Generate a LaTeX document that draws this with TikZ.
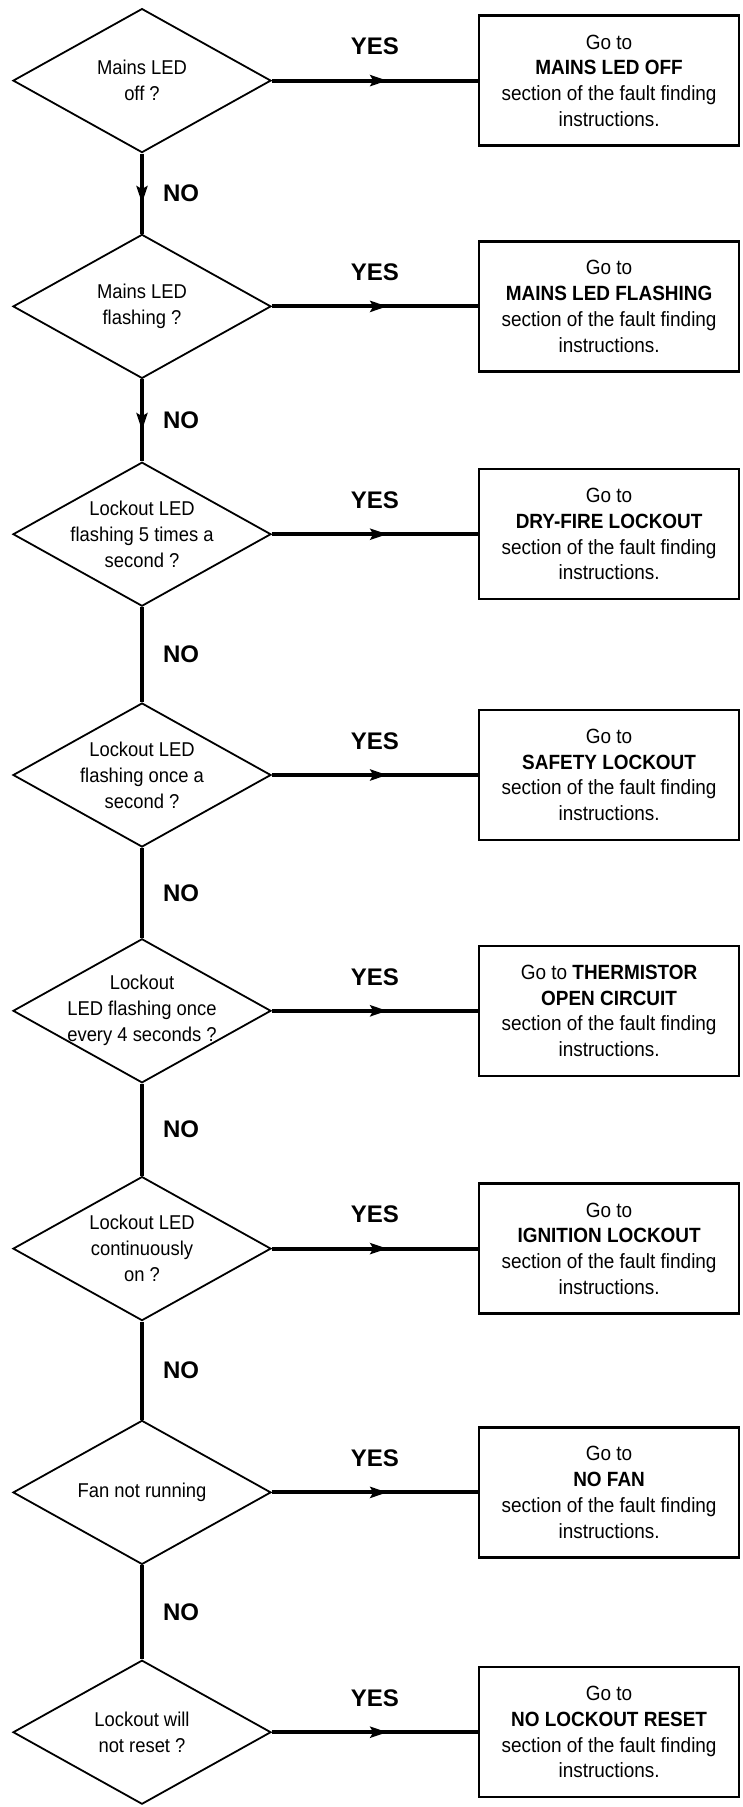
\documentclass[tikz,border=0pt]{standalone}
\usepackage{fontspec}
\setmainfont{Liberation Sans}
\newfontfamily\narrowsans{Liberation Sans}[FakeStretch=0.92]
\usepackage{tikz}
\usetikzlibrary{shapes.geometric,arrows.meta,positioning,decorations.markings}
\tikzset{
  decision/.style={diamond, draw=black, line width=1.8pt, aspect=1.79,
                   minimum width=258pt, minimum height=144pt, inner sep=-6pt,
                   align=center, font=\narrowsans\fontsize{20}{26}\selectfont},
  goto/.style={rectangle, draw=black, line width=2.4pt, minimum width=260pt,
               minimum height=130pt, inner sep=0pt, align=center,
               font=\narrowsans\fontsize{20.6}{25.7}\selectfont},
  flow/.style={line width=4pt},
  midar/.style={postaction={decorate}, decoration={markings,
                mark=at position #1 with {\arrow{Stealth[length=17pt,width=11pt,inset=3pt]}}}},
  yesno/.style={font=\fontsize{24}{24}\selectfont\bfseries, inner sep=0pt}
}
\begin{document}
\begin{tikzpicture}[x=1pt, y=-1pt]
\useasboundingbox (0,0) rectangle (743,1807);
% ---- questions ----
\node[decision] (q1) at (142,80.6) {Mains LED\\off ?};
\node[decision, below=80pt of q1] (q2) {Mains LED\\flashing ?};
\node[decision, below=82pt of q2] (q3) {Lockout LED\\flashing 5 times a\\second ?};
\node[decision, below=95pt of q3] (q4) {Lockout LED\\flashing once a\\second ?};
\node[decision, below=90pt of q4] (q5) {Lockout\\LED flashing once\\every 4 seconds ?};
\node[decision, below=92pt of q5] (q6) {Lockout LED\\continuously\\on ?};
\node[decision, below=98pt of q6] (q7) {Fan not running};
\node[decision, below=94pt of q7] (q8) {Lockout will\\not reset ?};
% ---- fault finding sections ----
\node[goto, right=206pt of q1] (b1) {Go to\\\textbf{MAINS LED OFF}\\section of the fault finding\\instructions.};
\node[goto, right=206pt of q2] (b2) {Go to\\\textbf{MAINS LED FLASHING}\\section of the fault finding\\instructions.};
\node[goto, right=206pt of q3] (b3) {Go to\\\textbf{DRY-FIRE LOCKOUT}\\section of the fault finding\\instructions.};
\node[goto, right=206pt of q4] (b4) {Go to\\\textbf{SAFETY LOCKOUT}\\section of the fault finding\\instructions.};
\node[goto, right=206pt of q5] (b5) {Go to \textbf{THERMISTOR}\\\textbf{OPEN CIRCUIT}\\section of the fault finding\\instructions.};
\node[goto, right=206pt of q6] (b6) {Go to\\\textbf{IGNITION LOCKOUT}\\section of the fault finding\\instructions.};
\node[goto, right=206pt of q7] (b7) {Go to\\\textbf{NO FAN}\\section of the fault finding\\instructions.};
\node[goto, right=206pt of q8] (b8) {Go to\\\textbf{NO LOCKOUT RESET}\\section of the fault finding\\instructions.};
% ---- YES branches ----
\draw[flow, midar=0.56] (q1.east) -- node[yesno, yshift=34pt] (yes1) {YES} (b1.west);
\draw[flow, midar=0.56] (q2.east) -- node[yesno, yshift=34pt] (yes2) {YES} (b2.west);
\draw[flow, midar=0.56] (q3.east) -- node[yesno, yshift=34pt] (yes3) {YES} (b3.west);
\draw[flow, midar=0.56] (q4.east) -- node[yesno, yshift=34pt] (yes4) {YES} (b4.west);
\draw[flow, midar=0.56] (q5.east) -- node[yesno, yshift=34pt] (yes5) {YES} (b5.west);
\draw[flow, midar=0.56] (q6.east) -- node[yesno, yshift=34pt] (yes6) {YES} (b6.west);
\draw[flow, midar=0.56] (q7.east) -- node[yesno, yshift=34pt] (yes7) {YES} (b7.west);
\draw[flow, midar=0.56] (q8.east) -- node[yesno, yshift=34pt] (yes8) {YES} (b8.west);
% ---- NO branches ----
\draw[flow, midar=0.62] (q1.south) -- node[yesno, anchor=west, xshift=19pt] (no1) {NO} (q2.north);
\draw[flow, midar=0.62] (q2.south) -- node[yesno, anchor=west, xshift=19pt] (no2) {NO} (q3.north);
\draw[flow] (q3.south) -- node[yesno, anchor=west, xshift=19pt] (no3) {NO} (q4.north);
\draw[flow] (q4.south) -- node[yesno, anchor=west, xshift=19pt] (no4) {NO} (q5.north);
\draw[flow] (q5.south) -- node[yesno, anchor=west, xshift=19pt] (no5) {NO} (q6.north);
\draw[flow] (q6.south) -- node[yesno, anchor=west, xshift=19pt] (no6) {NO} (q7.north);
\draw[flow] (q7.south) -- node[yesno, anchor=west, xshift=19pt] (no7) {NO} (q8.north);
\end{tikzpicture}
\end{document}
